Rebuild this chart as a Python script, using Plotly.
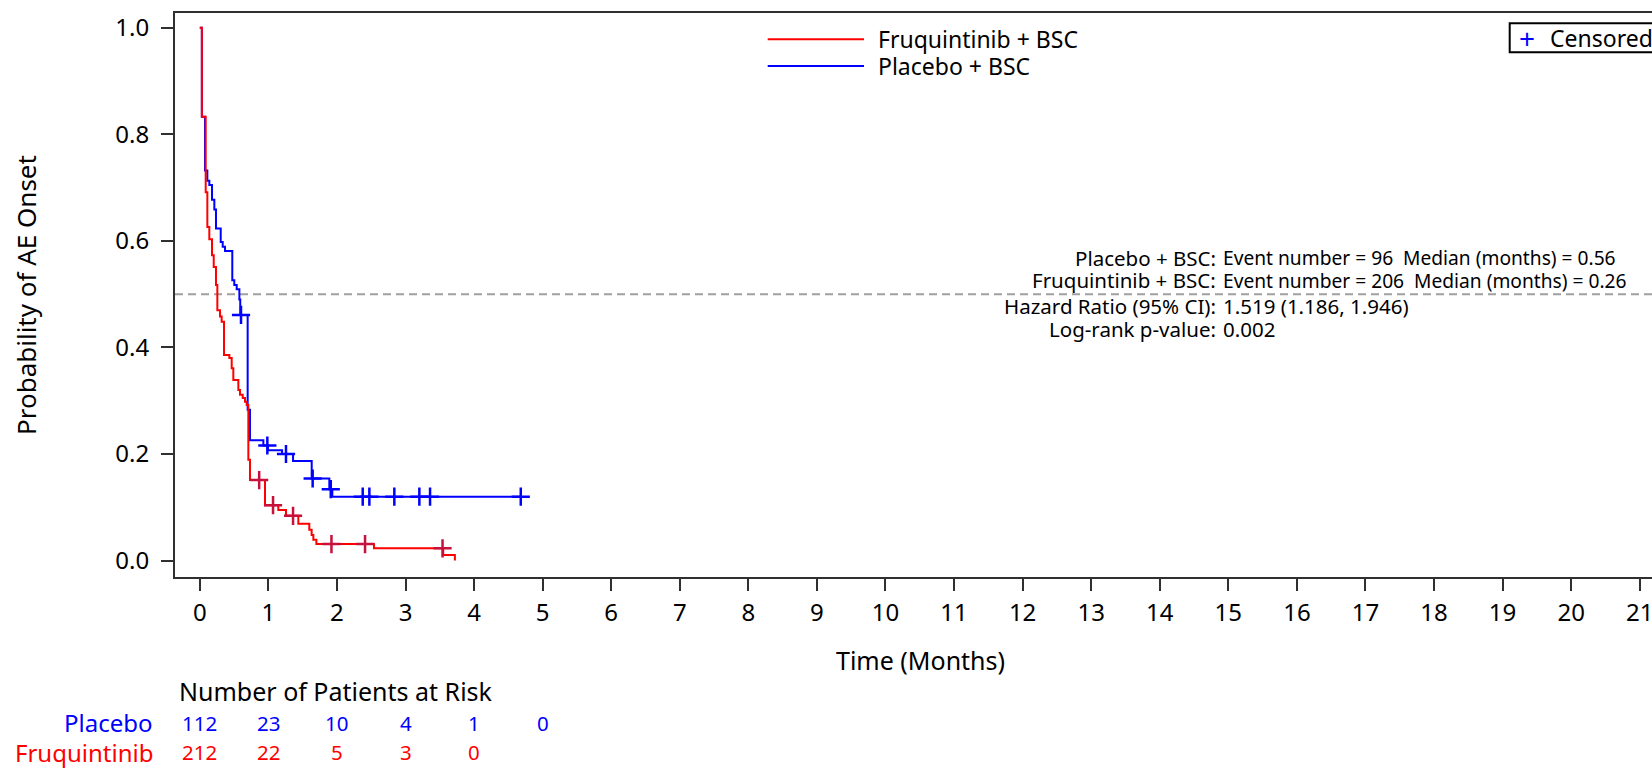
import numpy as np
import plotly.graph_objects as go

# ---------------- data ----------------
# Kaplan-Meier steps: event time (months) and probability after that event
fruq_time = [0, 0.03, 0.086, 0.11, 0.139, 0.178, 0.203, 0.236, 0.256, 0.295, 0.319, 0.353,
             0.431, 0.465, 0.489, 0.562, 0.586, 0.626, 0.659, 0.684, 0.708, 0.732, 0.951,
             1.145, 1.257, 1.437, 1.597, 1.631, 1.656, 1.70, 2.54, 3.55, 3.72]
fruq_prob = [1.0, 0.833, 0.691, 0.626, 0.603, 0.573, 0.551, 0.517, 0.470, 0.458, 0.448, 0.386,
             0.380, 0.361, 0.339, 0.320, 0.311, 0.305, 0.298, 0.292, 0.189, 0.151, 0.104,
             0.095, 0.084, 0.069, 0.058, 0.048, 0.039, 0.031, 0.023, 0.0105, 0.0]
fruq_cens_time = [0.866, 1.068, 1.36, 1.92, 2.41, 3.54]

plac_time = [0, 0.03, 0.076, 0.11, 0.139, 0.178, 0.212, 0.236, 0.305, 0.334, 0.368, 0.474,
             0.503, 0.538, 0.577, 0.59, 0.698, 0.732, 0.927, 0.995, 1.20, 1.36, 1.632,
             1.889, 1.933]
plac_prob = [1.0, 0.833, 0.732, 0.713, 0.705, 0.677, 0.659, 0.623, 0.598, 0.589, 0.581, 0.526,
             0.517, 0.509, 0.49, 0.461, 0.283, 0.226, 0.216, 0.207, 0.200, 0.187, 0.154,
             0.134, 0.12]
plac_cens_time = [0.601, 0.985, 1.257, 1.646, 1.91, 2.376, 2.473, 2.837, 3.202, 3.358, 4.681]
plac_end_time = 4.681

risk_times = [0, 1, 2, 3, 4, 5]
risk_placebo = [112, 23, 10, 4, 1, 0]
risk_fruq = [212, 22, 5, 3, 0]

x_ticks = list(range(0, 22))
y_ticks = [0.0, 0.2, 0.4, 0.6, 0.8, 1.0]

series_names = ["Fruquintinib + BSC", "Placebo + BSC"]
risk_labels = ["Placebo", "Fruquintinib"]
stats_labels = ["Placebo + BSC:", "Fruquintinib + BSC:", "Hazard Ratio (95% CI):",
                "Log-rank p-value:"]
stats_values = ["Event number = 96\u00a0 Median (months) = 0.56",
                "Event number = 206\u00a0 Median (months) = 0.26",
                "1.519 (1.186, 1.946)", "0.002"]
median_line = 0.5

# ---------------- styling ----------------
FONT = "Noto Sans"
RED = "#FF0000"
BLUE = "#0000FF"
RED_CENS = "#C8103C"
AXIS_COL = "#303030"


def step_value(times, probs, t):
    idx = np.searchsorted(np.asarray(times), t, side="right") - 1
    return float(np.asarray(probs)[idx])


fig = go.Figure()

# Placebo curve (drawn first)
px_ = list(plac_time) + [plac_end_time]
py_ = list(plac_prob) + [plac_prob[-1]]
fig.add_trace(go.Scatter(x=px_, y=py_, mode="lines", line=dict(color=BLUE, width=2, shape="hv"),
                         name=series_names[1], showlegend=False, hoverinfo="skip"))
fig.add_trace(go.Scatter(x=plac_cens_time,
                         y=[step_value(plac_time, plac_prob, t) for t in plac_cens_time],
                         mode="markers",
                         marker=dict(symbol="cross-thin", size=13, line=dict(color=BLUE, width=2.5)),
                         showlegend=False, hoverinfo="skip"))

# Fruquintinib curve
fig.add_trace(go.Scatter(x=fruq_time, y=fruq_prob, mode="lines",
                         line=dict(color=RED, width=2, shape="hv"),
                         name=series_names[0], showlegend=False, hoverinfo="skip"))
fig.add_trace(go.Scatter(x=fruq_cens_time,
                         y=[step_value(fruq_time, fruq_prob, t) for t in fruq_cens_time],
                         mode="markers",
                         marker=dict(symbol="cross-thin", size=13, line=dict(color=RED_CENS, width=2.5)),
                         showlegend=False, hoverinfo="skip"))

# plot area geometry (pixels)
W, H = 1652, 768
L, R, T, B = 175, 0, 13, 191
pw, ph = W - L - R, H - T - B


def pxx(x):
    return (x - L) / pw


def pxy(y):
    return (H - B - y) / ph


shapes = []
annotations = []

# median reference line
shapes.append(dict(type="line", xref="paper", yref="y", x0=0, x1=1, y0=median_line, y1=median_line,
                   line=dict(color="#A0A0A0", width=2, dash="8px,5px"), layer="below"))

# legend (lines + text)
for i, (name, col) in enumerate(zip(series_names, [RED, BLUE])):
    yy = [39.3, 66.0][i]
    shapes.append(dict(type="line", xref="paper", yref="paper", x0=pxx(767.7), x1=pxx(864),
                       y0=pxy(yy), y1=pxy(yy), line=dict(color=col, width=2)))
    annotations.append(dict(xref="paper", yref="paper", x=pxx(878), y=pxy(yy), text=name,
                            showarrow=False, xanchor="left", yanchor="middle",
                            font=dict(family=FONT, size=23, color="black"),
                            borderpad=0, borderwidth=0))

# censored legend box
shapes.append(dict(type="rect", xref="paper", yref="paper", x0=pxx(1509.7), x1=pxx(1700),
                   y0=pxy(52.3), y1=pxy(23.3), line=dict(color="black", width=2),
                   fillcolor="white"))
annotations.append(dict(xref="paper", yref="paper", x=pxx(1527), y=pxy(38.3), text="+",
                        showarrow=False, xanchor="center", yanchor="middle",
                        font=dict(family=FONT, size=28, color=BLUE), borderpad=0, borderwidth=0))
annotations.append(dict(xref="paper", yref="paper", x=pxx(1549.7), y=pxy(38.3), text="Censored",
                        showarrow=False, xanchor="left", yanchor="middle",
                        font=dict(family=FONT, size=23, color="black"), borderpad=0, borderwidth=0))

# statistics block (colon aligned)
stat_rows_y = [257.7, 280.3, 306.0, 328.7]
stat_value_sizes = [19.2, 19.2, 20.5, 20.5]
for lab, val, yy, vs in zip(stats_labels, stats_values, stat_rows_y, stat_value_sizes):
    annotations.append(dict(xref="paper", yref="paper", x=pxx(1216), y=pxy(yy), text=lab,
                            showarrow=False, xanchor="right", yanchor="middle",
                            font=dict(family=FONT, size=20.5, color="black"),
                            borderpad=0, borderwidth=0))
    annotations.append(dict(xref="paper", yref="paper", x=pxx(1223), y=pxy(yy), text=val,
                            showarrow=False, xanchor="left", yanchor="middle",
                            font=dict(family=FONT, size=vs, color="black"),
                            borderpad=0, borderwidth=0))

# axis titles
annotations.append(dict(xref="paper", yref="paper", x=pxx(921), y=pxy(659.5), text="Time (Months)",
                        showarrow=False, xanchor="center", yanchor="middle",
                        font=dict(family=FONT, size=25, color="black"), borderpad=0, borderwidth=0))
annotations.append(dict(xref="paper", yref="paper", x=pxx(26), y=0.5,
                        text="Probability of AE Onset", textangle=-90,
                        showarrow=False, xanchor="center", yanchor="middle",
                        font=dict(family=FONT, size=26, color="black"), borderpad=0, borderwidth=0))

# at-risk table
annotations.append(dict(xref="paper", yref="paper", x=pxx(179), y=pxy(690.7),
                        text="Number of Patients at Risk", showarrow=False, xanchor="left",
                        yanchor="middle", font=dict(family=FONT, size=25, color="black"),
                        borderpad=0, borderwidth=0))
for lab, col, yy, vals in zip(risk_labels, [BLUE, RED], [723.0, 752.0], [risk_placebo, risk_fruq]):
    annotations.append(dict(xref="paper", yref="paper", x=pxx(152.5), y=pxy(yy), text=lab,
                            showarrow=False, xanchor="right", yanchor="middle",
                            font=dict(family=FONT, size=24, color=col), borderpad=0, borderwidth=0))
    for t, v in zip(risk_times, vals):
        annotations.append(dict(xref="x", yref="paper", x=t, y=pxy(yy), text=str(v),
                                showarrow=False, xanchor="center", yanchor="middle",
                                font=dict(family=FONT, size=20.5, color=col),
                                borderpad=0, borderwidth=0))

# axis ranges mapped from pixel positions
x0 = -0.3617
x1 = 21.179
y_lo = -0.0308
y_hi = 1.0276

fig.update_layout(
    width=W, height=H,
    margin=dict(l=L, r=R, t=T, b=B, autoexpand=False),
    plot_bgcolor="white", paper_bgcolor="white",
    font=dict(family=FONT, size=24, color="black"),
    showlegend=False,
    shapes=shapes,
    annotations=annotations,
    xaxis=dict(range=[x0, x1], tickmode="array", tickvals=x_ticks,
               ticktext=[str(v) for v in x_ticks],
               showline=True, linecolor=AXIS_COL, linewidth=2, mirror=True,
               ticks="outside", ticklen=12, tickwidth=2, tickcolor=AXIS_COL,
               showgrid=False, zeroline=False, automargin=False, ticklabeloverflow="allow",
               tickfont=dict(family=FONT, size=24, color="black"), ticklabelstandoff=1),
    yaxis=dict(range=[y_lo, y_hi], tickmode="array", tickvals=y_ticks,
               ticktext=[f"{v:.1f}" for v in y_ticks],
               showline=True, linecolor=AXIS_COL, linewidth=2, mirror=False,
               ticks="outside", ticklen=12, tickwidth=2, tickcolor=AXIS_COL,
               showgrid=False, zeroline=False, automargin=False,
               tickfont=dict(family=FONT, size=24, color="black"), ticklabelstandoff=7),
)

fig.write_html("out.html", config={"displayModeBar": False},
               post_script="document.body.style.margin='0';document.body.style.overflow='hidden';")
